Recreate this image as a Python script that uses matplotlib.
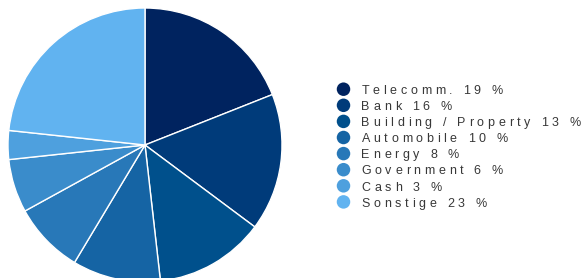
import matplotlib
matplotlib.use("Agg")
import matplotlib.pyplot as plt

plt.rcParams["font.family"] = ["Liberation Sans", "DejaVu Sans"]

# Sector shares and legend names
sectors = ["Telecomm.", "Bank", "Building / Property", "Automobile",
           "Energy", "Government", "Cash", "Sonstige"]
shares = [19.0, 16.2, 13.0, 10.4, 8.4, 6.3, 3.4, 23.3]
colors = ["#00235f", "#003b7a", "#00508c", "#1564a4",
          "#2878b8", "#3a8ccb", "#4ea0de", "#61b3f0"]

W, H = 583, 278
fig = plt.figure(figsize=(W / 100, H / 100), dpi=100)

# Pie: centre (145, 145) px from top-left, radius 137 px
cx, cy, r = 145, 145, 137
ax = fig.add_axes([(cx - r) / W, (H - cy - r) / H, 2 * r / W, 2 * r / H])
ax.pie(shares, colors=colors, startangle=90, counterclock=False, radius=1,
       wedgeprops=dict(edgecolor="white", linewidth=1.0))
ax.set_xlim(-1, 1)
ax.set_ylim(-1, 1)
ax.set_aspect("equal")
ax.axis("off")

# Legend drawn by hand, with the wide letter spacing of the original
renderer = fig.canvas.get_renderer()


def char_width(ch, size):
    a = fig.text(0, 0, "|" + ch + "|", fontsize=size)
    b = fig.text(0, 0, "||", fontsize=size)
    w = a.get_window_extent(renderer).width - b.get_window_extent(renderer).width
    a.remove()
    b.remove()
    return w


def spaced_text(x, y, s, size=9, spacing=3.65, color="#383838"):
    for ch in s:
        if ch != " ":
            fig.text(x / W, 1 - y / H, ch, fontsize=size, color=color,
                     va="baseline", ha="left")
        x += char_width(ch, size) + spacing


for i, (name, val, col) in enumerate(zip(sectors, shares, colors)):
    base = 94 + 16.1 * i
    fig.patches.append(matplotlib.patches.Ellipse(
        (343.5 / W, 1 - (base - 4.8) / H), 13.5 / W, 13.5 / H,
        transform=fig.transFigure, facecolor=col, edgecolor="none"))
    spaced_text(361.5, base, f"{name} {val:.0f} %")

fig.savefig("out.png", dpi=100)
